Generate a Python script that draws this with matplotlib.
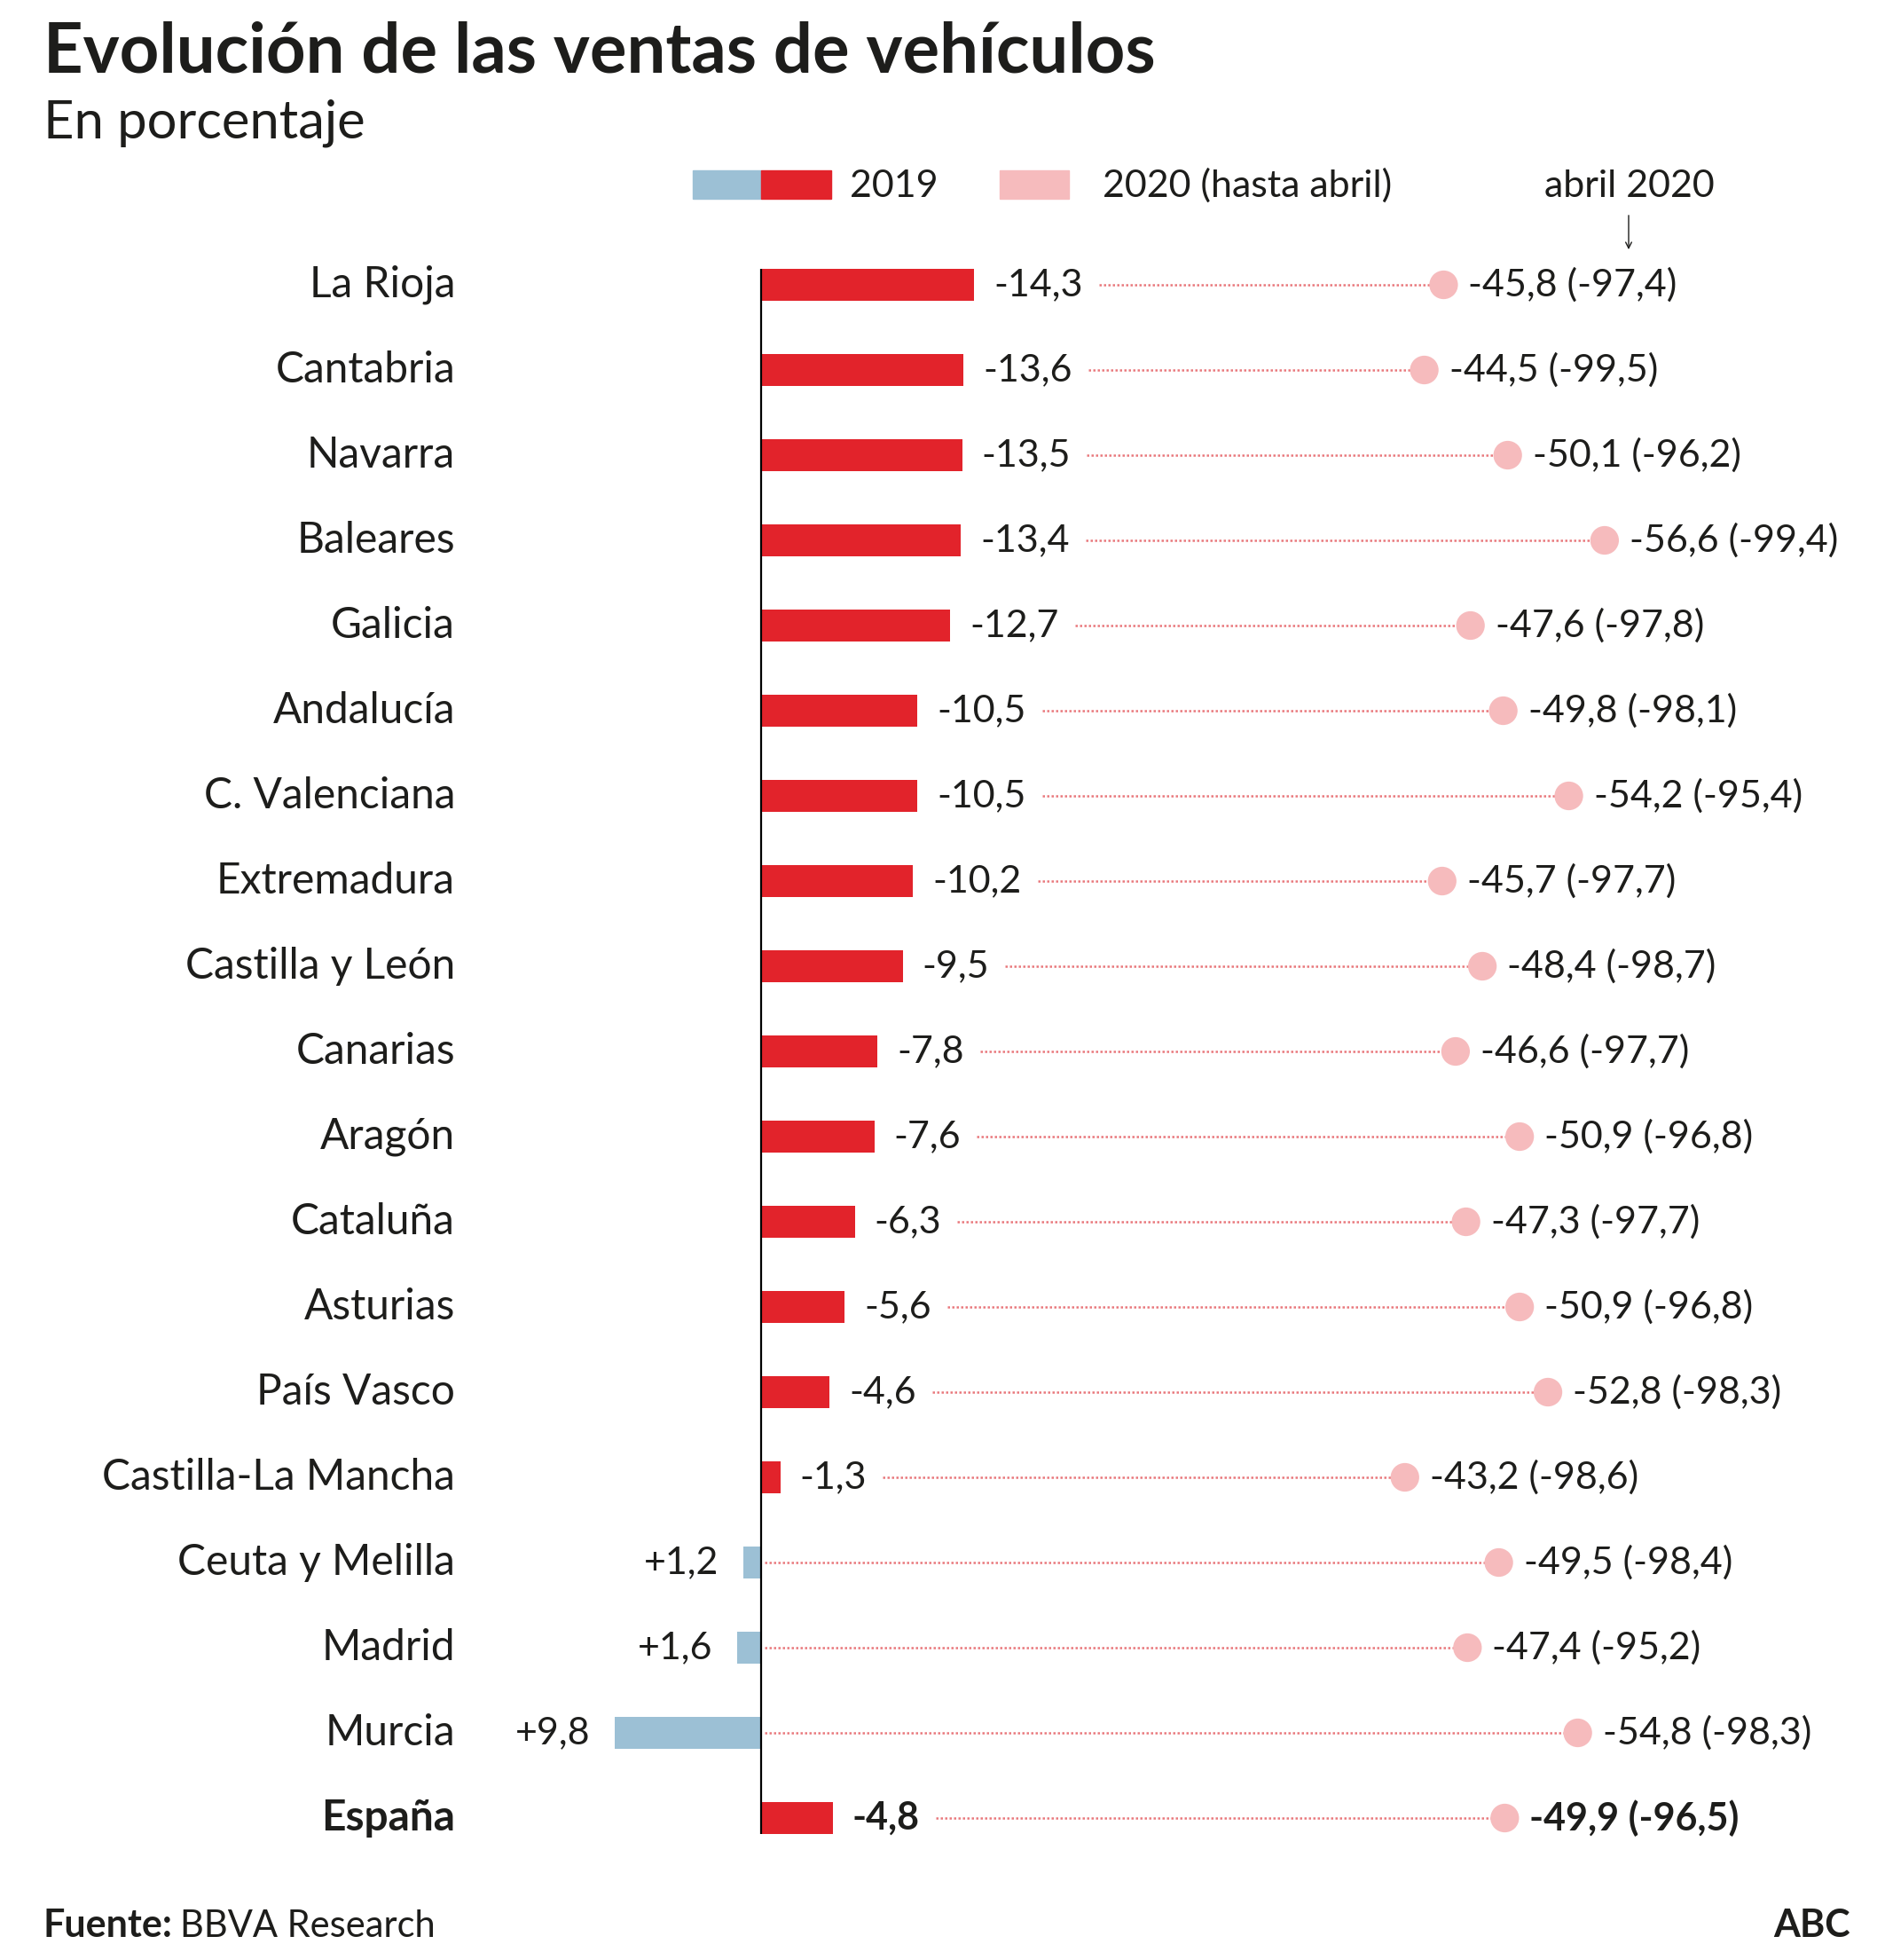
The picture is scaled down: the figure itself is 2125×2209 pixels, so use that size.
import matplotlib
matplotlib.use("Agg")
import matplotlib.pyplot as plt
from matplotlib.patches import Rectangle

plt.rcParams['font.family'] = ['Lato', 'DejaVu Sans']

# data
regions = ['La Rioja', 'Cantabria', 'Navarra', 'Baleares', 'Galicia', 'Andalucía',
           'C. Valenciana', 'Extremadura', 'Castilla y León', 'Canarias', 'Aragón',
           'Cataluña', 'Asturias', 'País Vasco', 'Castilla-La Mancha',
           'Ceuta y Melilla', 'Madrid', 'Murcia', 'España']
ventas_2019 = [-14.3, -13.6, -13.5, -13.4, -12.7, -10.5, -10.5, -10.2, -9.5, -7.8,
               -7.6, -6.3, -5.6, -4.6, -1.3, 1.2, 1.6, 9.8, -4.8]
ventas_2020 = [-45.8, -44.5, -50.1, -56.6, -47.6, -49.8, -54.2, -45.7, -48.4, -46.6,
               -50.9, -47.3, -50.9, -52.8, -43.2, -49.5, -47.4, -54.8, -49.9]
abril_2020 = [-97.4, -99.5, -96.2, -99.4, -97.8, -98.1, -95.4, -97.7, -98.7, -97.7,
              -96.8, -97.7, -96.8, -98.3, -98.6, -98.4, -95.2, -98.3, -96.5]

RED = '#e2232b'
BLUE = '#9cc0d5'
PINK = '#f6bbbd'
DOTS = '#e9797d'
TXT = '#1d1d1b'

W, H = 2125, 2209
fig = plt.figure(figsize=(W / 100, H / 100), dpi=100)

def fx(px):
    return px / W

def fy(py):
    return 1 - py / H

def fmt(v, sign=False):
    s = f'{v:.1f}'.replace('.', ',')
    if sign and v > 0:
        s = '+' + s
    return s

# axes over the whole figure, x inverted so that falls go right
ax = fig.add_axes([0, 0, 1, 1])
ax.set_xlim(858 / 16.8, -(W - 858) / 16.8)
ax.set_ylim((H - 321) / 96, -321 / 96)
ax.axis('off')

n = len(regions)
ys = list(range(n))
bar_h = 0.365
colors = [BLUE if v > 0 else RED for v in ventas_2019]
ax.barh(ys, ventas_2019, height=bar_h, color=colors, zorder=2)
ax.vlines(0, -bar_h / 2, n - 1 + bar_h / 2, color='black', lw=1.6, zorder=3)
ax.scatter(ventas_2020, ys, s=540, color=PINK, edgecolors='none', zorder=4)

fs = 31
bar_texts = []
for i, (name, v, v2, a) in enumerate(zip(regions, ventas_2019, ventas_2020, abril_2020)):
    bold = 'bold' if name == 'España' else 'normal'
    ax.annotate(name, (0, i), xytext=(-345, 0), textcoords='offset pixels',
                ha='right', va='center', fontsize=34.5, color=TXT, fontweight=bold)
    if v > 0:
        t = ax.annotate(fmt(v, True), (v, i), xytext=(-28, 0), textcoords='offset pixels',
                        ha='right', va='center', fontsize=fs, color=TXT, fontweight=bold)
    else:
        t = ax.annotate(fmt(v), (v, i), xytext=(22, 0), textcoords='offset pixels',
                        ha='left', va='center', fontsize=fs, color=TXT, fontweight=bold)
    bar_texts.append(t)
    ax.annotate(f'{fmt(v2)} ({fmt(a)})', (v2, i), xytext=(28, 0), textcoords='offset pixels',
                ha='left', va='center', fontsize=fs, color=TXT, fontweight=bold)

# dotted leaders start after the 2019 label
fig.canvas.draw()
renderer = fig.canvas.get_renderer()
inv = ax.transData.inverted()
for i, (v, v2, t) in enumerate(zip(ventas_2019, ventas_2020, bar_texts)):
    if v > 0:
        x0 = inv.transform((ax.transData.transform((0, i))[0] + 4, 0))[0]
    else:
        bb = t.get_window_extent(renderer)
        x0 = inv.transform((bb.x1 + 18, 0))[0]
    ax.plot([x0, v2], [i, i], color=DOTS, lw=1.8, ls=(0, (1, 1)), zorder=1)

# title block
fig.text(fx(49), fy(82), 'Evolución de las ventas de vehículos', fontsize=56,
         fontweight='bold', color=TXT, va='baseline')
fig.text(fx(49), fy(156), 'En porcentaje', fontsize=43, color=TXT, va='baseline')

# legend
fig.patches.append(Rectangle((fx(781), fy(224)), fx(858) - fx(781), fy(192) - fy(224),
                             transform=fig.transFigure, color=BLUE))
fig.patches.append(Rectangle((fx(858), fy(224)), fx(937) - fx(858), fy(192) - fy(224),
                             transform=fig.transFigure, color=RED))
fig.patches.append(Rectangle((fx(1127), fy(224)), fx(1205) - fx(1127), fy(192) - fy(224),
                             transform=fig.transFigure, color=PINK))
fig.text(fx(958), fy(222), '2019', fontsize=fs, color=TXT, va='baseline')
fig.text(fx(1243), fy(222), '2020 (hasta abril)', fontsize=fs, color=TXT, va='baseline')
fig.text(fx(1837), fy(222), 'abril 2020', fontsize=fs, color=TXT, va='baseline', ha='center')
fig.add_artist(matplotlib.patches.FancyArrowPatch((fx(1836), fy(240)), (fx(1836), fy(284)),
               transform=fig.transFigure, arrowstyle='->', mutation_scale=12,
               color=TXT, lw=1))

# footer
fig.text(fx(49), fy(2183), 'Fuente:', fontsize=31, fontweight='bold', color=TXT, va='baseline')
fig.text(fx(203), fy(2183), 'BBVA Research', fontsize=30, color=TXT, va='baseline')
fig.text(fx(2086), fy(2183), 'ABC', fontsize=31, fontweight='bold', color=TXT,
         va='baseline', ha='right')

fig.savefig('out.png', dpi=100, facecolor='white')
